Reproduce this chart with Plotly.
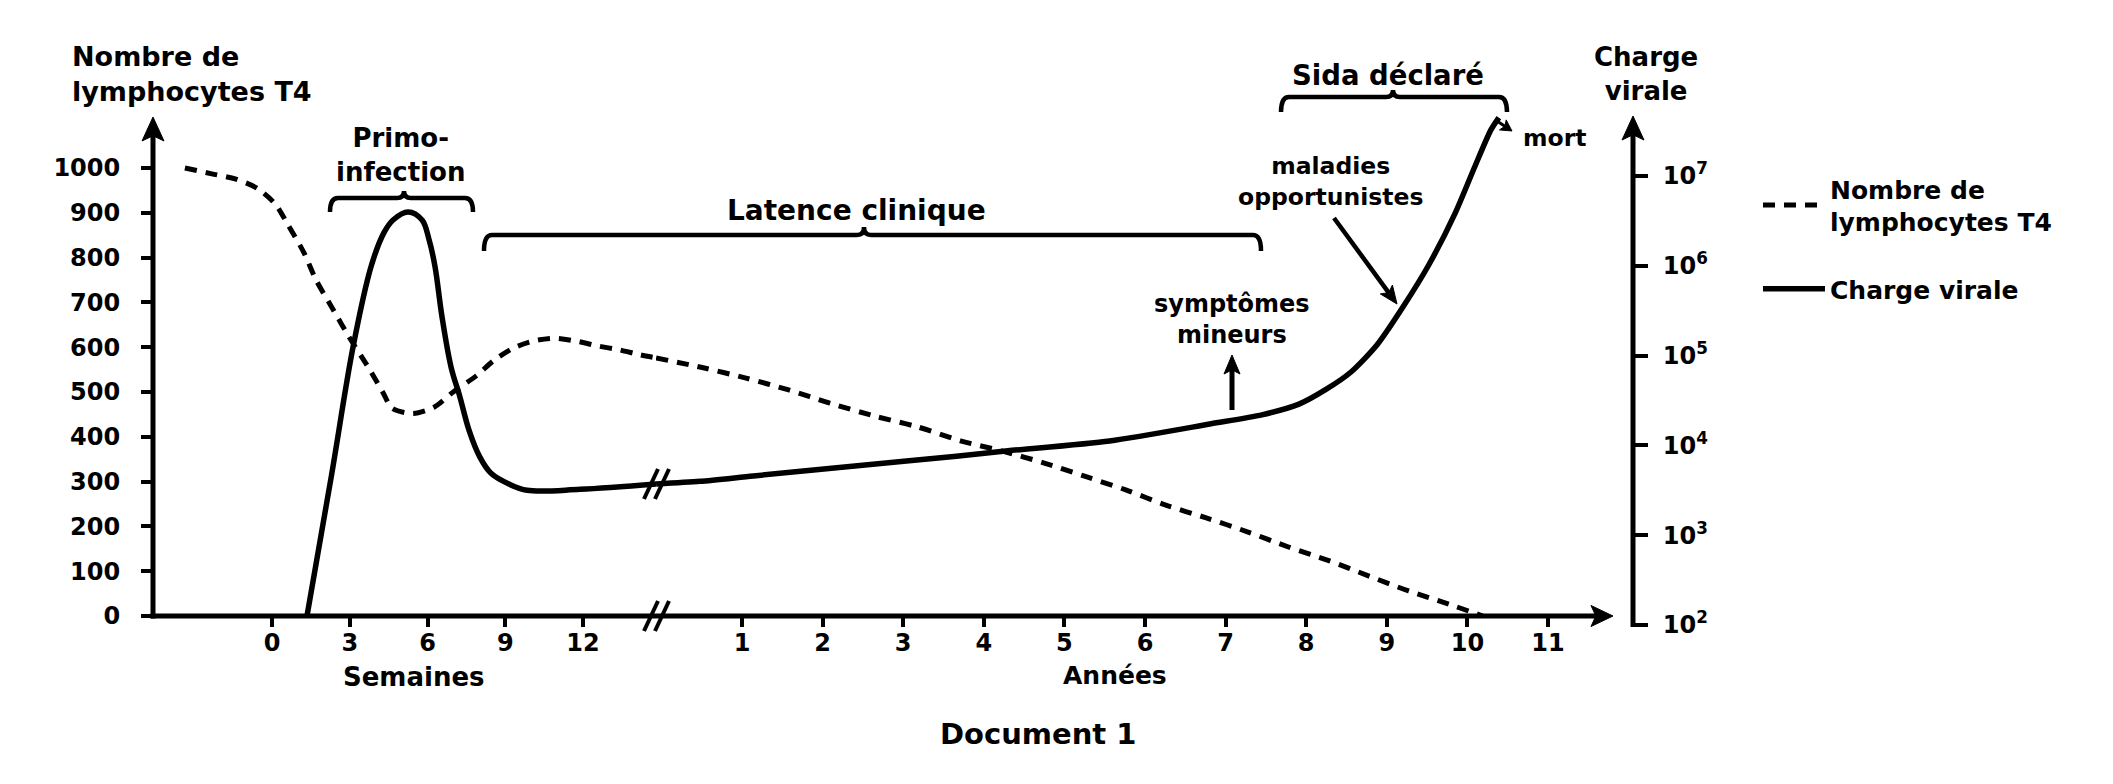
import math
import plotly.graph_objects as go

# ------------------------------------------------------------------ data
# T4 lymphocyte count (left axis) – first part in weeks, second part in years
t4_weeks = [-3.36, -2.32, -1.39, -0.58, 0.12, 0.62, 1.24, 1.70, 2.39, 2.93, 3.78, 4.29,
            4.63, 5.44, 6.25, 6.99, 7.88, 8.53, 9.31, 10.1, 10.85, 11.7, 12.55, 13.4,
            14.2, 14.83]
t4_weeks_count = [1000, 987, 975, 955, 920, 873, 810, 750, 681, 627, 549, 498,
                  464, 452, 466, 500, 536, 569, 598, 614, 620, 614, 603, 594,
                  583, 576]
t4_years = [-0.066, 0.52, 1.05, 1.59, 2.09, 2.65, 3.18, 3.71, 4.23, 4.74, 5.25, 5.77,
            6.25, 6.76, 7.27, 7.78, 8.29, 8.78, 9.27, 9.76, 10.19]
t4_years_count = [576, 554, 531, 504, 475, 446, 422, 391, 368, 342, 312, 281,
                  248, 219, 188, 154, 123, 89, 56, 27, 0]

# Viral load (right log axis)
vl_weeks = [1.35, 2.30, 3.13, 3.82, 4.32, 4.67, 5.25, 5.79, 6.06, 6.29, 6.56, 6.91,
            7.25, 7.60, 8.02, 8.45, 9.14, 9.84, 11.88, 14.83]
vl_weeks_load = [126, 4730, 126000, 977000, 2340000, 3240000, 3980000, 3240000,
                 1950000, 977000, 269000, 74100, 34700, 14800, 7410, 4900, 3720, 3160,
                 3240, 3720]
vl_years = [-0.066, 0.48, 1.14, 2.40, 3.66, 4.30, 5.56, 6.82, 7.45, 7.91, 8.24, 8.56,
            8.88, 9.20, 9.52, 9.85, 10.09, 10.29, 10.39]
vl_years_load = [3720, 3980, 4570, 5890, 7590, 8710, 11200, 17400, 21900, 28800, 41700,
                 66100, 132000, 347000, 1020000, 3890000, 12600000, 32400000, 44700000]

week_ticks = [0, 3, 6, 9, 12]
year_ticks = [1, 2, 3, 4, 5, 6, 7, 8, 9, 10, 11]
t4_ticks = [0, 100, 200, 300, 400, 500, 600, 700, 800, 900, 1000]
vl_ticks = [1e2, 1e3, 1e4, 1e5, 1e6, 1e7]
vl_tick_labels = ["10<sup>2</sup>", "10<sup>3</sup>", "10<sup>4</sup>",
                  "10<sup>5</sup>", "10<sup>6</sup>", "10<sup>7</sup>"]

# ------------------------------------------------------------------ geometry (pixels)
W, H = 2113, 784
L, R, T, B = 153, 1633, 100, 628          # plot box
BREAK = 656                                 # x of the axis break
XAXIS_Y = 616                               # y of horizontal axis
W0, PPW = 272, 25.92                        # week 0 pixel, px per week
Y1, PPY = 742, 80.6                         # year 1 pixel, px per year
PPU = 0.448                                 # px per lymphocyte
V2, PPD = 625, 89.8                         # 10^2 pixel, px per decade


def px(x):
    return (x - L) / (R - L)


def py(y):
    return (B - y) / (B - T)


FONT = "DejaVu Sans, Liberation Sans, Arial, sans-serif"


def f(size):
    return dict(family=FONT, size=size, color="black", weight="bold")


BLACK = "black"

fig = go.Figure()
dash = "12px,9px"
fig.add_trace(go.Scatter(x=t4_weeks, y=t4_weeks_count, xaxis="x", yaxis="y", mode="lines",
                         line=dict(color=BLACK, width=5, dash=dash, shape="spline", smoothing=0.8),
                         name="Nombre de<br>lymphocytes T4", legendgroup="t4"))
fig.add_trace(go.Scatter(x=t4_years, y=t4_years_count, xaxis="x2", yaxis="y", mode="lines",
                         line=dict(color=BLACK, width=5, dash=dash, shape="spline", smoothing=0.8),
                         name="Nombre de<br>lymphocytes T4", legendgroup="t4", showlegend=False))
fig.add_trace(go.Scatter(x=vl_weeks, y=vl_weeks_load, xaxis="x", yaxis="y2", mode="lines",
                         line=dict(color=BLACK, width=5.5, shape="spline", smoothing=1.0),
                         name="Charge virale", legendgroup="vl"))
fig.add_trace(go.Scatter(x=vl_years, y=vl_years_load, xaxis="x2", yaxis="y2", mode="lines",
                         line=dict(color=BLACK, width=5.5, shape="spline", smoothing=0.7),
                         name="Charge virale", legendgroup="vl", showlegend=False))

common_x = dict(anchor="free", position=py(XAXIS_Y), ticks="outside", ticklen=10, tickwidth=4,
                tickcolor=BLACK, showline=False, showgrid=False, zeroline=False,
                tickfont=f(24), ticklabelstandoff=-5)
xaxis = dict(domain=[0, px(BREAK)], range=[(L - W0) / PPW, (BREAK - W0) / PPW],
             tickvals=week_ticks, **common_x)
xaxis2 = dict(domain=[px(BREAK), 1], range=[1 + (BREAK - Y1) / PPY, 1 + (R - Y1) / PPY],
              tickvals=year_ticks, **common_x)
yaxis = dict(domain=[0, 1], range=[(XAXIS_Y - B) / PPU, (XAXIS_Y - T) / PPU], anchor="x",
             tickvals=t4_ticks, ticks="outside", ticklen=11, tickwidth=4, tickcolor=BLACK,
             showline=False, showgrid=False, zeroline=False, tickfont=f(24),
             ticklabelstandoff=16)
yaxis2 = dict(type="log", range=[2 + (V2 - B) / PPD, 2 + (V2 - T) / PPD], overlaying="y",
              side="right", anchor="free", position=1, tickvals=vl_ticks,
              ticktext=vl_tick_labels, ticks="outside", ticklen=14, tickwidth=4,
              tickcolor=BLACK, showline=False, showgrid=False, zeroline=False,
              tickfont=f(24), ticklabelstandoff=10)

shapes = []


def seg(x0, y0, x1, y1, w=5):
    shapes.append(dict(type="line", xref="paper", yref="paper", x0=px(x0), y0=py(y0),
                       x1=px(x1), y1=py(y1), line=dict(color=BLACK, width=w)))


def head(tx, ty, dx, dy, length, half):
    """Filled arrow head (stealth shape) with its tip at (tx, ty) in pixels."""
    n = math.hypot(dx, dy)
    ux, uy = dx / n, dy / n
    nx, ny = -uy, ux
    bx, by = tx - ux * length, ty - uy * length
    pts = [(tx, ty), (bx + nx * half, by + ny * half),
           (tx - ux * length * 0.78, ty - uy * length * 0.78),
           (bx - nx * half, by - ny * half)]
    d = "M" + " L".join(f"{px(a):.5f},{py(b):.5f}" for a, b in pts) + " Z"
    shapes.append(dict(type="path", xref="paper", yref="paper", path=d,
                       fillcolor=BLACK, line=dict(color=BLACK, width=1)))


def arrow(x0, y0, x1, y1, w, length, half):
    n = math.hypot(x1 - x0, y1 - y0)
    k = (n - length * 0.7) / n
    seg(x0, y0, x0 + (x1 - x0) * k, y0 + (y1 - y0) * k, w)
    head(x1, y1, x1 - x0, y1 - y0, length, half)


# axis lines with arrow heads
arrow(L - 2.5, XAXIS_Y, 1613, XAXIS_Y, 5, 22, 10.5)
arrow(L, XAXIS_Y + 2.5, L, 117, 5, 24, 11)
arrow(R, V2 + 2, R, 116, 5, 24, 11)
# pointers
arrow(1232, 410, 1232, 355, 5, 19, 8)
arrow(1334, 218, 1397, 304, 4.5, 18, 7.5)
arrow(1497, 121, 1512, 131, 3, 11, 6)


def brace(x0, x1, xm, yl, ye, yc, r=8, r2=7):
    pts = [("M", (x0, ye)), ("Q", (x0, yl), (x0 + r, yl)), ("L", (xm - r2, yl)),
           ("Q", (xm, yl), (xm, yc)), ("Q", (xm, yl), (xm + r2, yl)), ("L", (x1 - r, yl)),
           ("Q", (x1, yl), (x1, ye))]
    d = ""
    for item in pts:
        d += item[0] + " ".join(f"{px(a):.5f},{py(b):.5f}" for a, b in item[1:]) + " "
    shapes.append(dict(type="path", xref="paper", yref="paper", path=d.strip(),
                       line=dict(color=BLACK, width=4.5)))


brace(330, 473, 404, 198, 212, 191)
brace(484, 1261, 864, 235, 251, 227)
brace(1281, 1507, 1393, 97, 112, 90)

# break marks "//"
for cy in (XAXIS_Y, 484):
    for dx in (-5, 6):
        seg(BREAK + dx - 7, cy + 15, BREAK + dx + 7, cy - 15, w=4)

annotations = []


def text(s, x, y, size, xanchor="center", align="center"):
    annotations.append(dict(text=s, xref="paper", yref="paper", x=px(x), y=py(y),
                            xanchor=xanchor, yanchor="middle", align=align,
                            showarrow=False, font=f(size)))


text("Nombre de<br>lymphocytes T4", 70, 74, 27, xanchor="left", align="left")
text("Charge<br>virale", 1646, 74, 26)
text("Primo-<br>infection", 401, 155, 26)
text("Latence clinique", 856, 210, 28)
text("Sida déclaré", 1388, 75, 27.5)
text("maladies<br>opportunistes", 1330, 181, 23.5)
text("symptômes<br>mineurs", 1232, 319, 24)
text("mort", 1554, 138, 23.5)
text("Semaines", 414, 677, 26)
text("Années", 1115, 675, 25)
text("Document 1", 1038, 734, 29)

fig.update_layout(
    width=W, height=H,
    margin=dict(l=L, r=W - R, t=T, b=H - B, pad=0),
    paper_bgcolor="white", plot_bgcolor="white",
    xaxis=xaxis, xaxis2=xaxis2, yaxis=yaxis, yaxis2=yaxis2,
    shapes=shapes, annotations=annotations,
    showlegend=True,
    legend=dict(x=px(1758), y=py(166), xanchor="left", yanchor="top", font=f(25),
                bgcolor="rgba(0,0,0,0)", itemwidth=62, tracegroupgap=32),
)

fig.write_html("out.html")
